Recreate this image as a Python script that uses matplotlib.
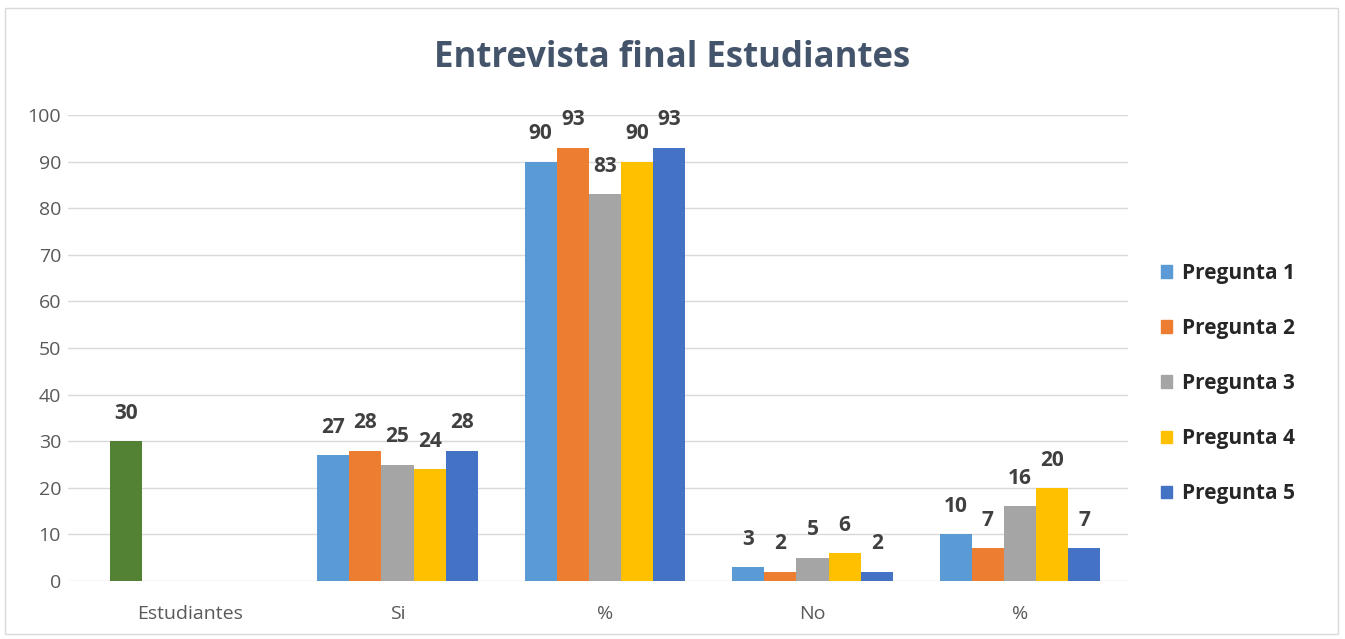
import numpy as np
import matplotlib
matplotlib.use("Agg")
import matplotlib.pyplot as plt
from matplotlib.patches import Rectangle

plt.rcParams['font.family'] = ['Open Sans', 'DejaVu Sans']

categories = ['Estudiantes', 'Si', '%', 'No', '%']
series_names = ['Pregunta 1', 'Pregunta 2', 'Pregunta 3', 'Pregunta 4', 'Pregunta 5']
# the Estudiantes column only has one bar (total students)
pregunta1 = [30, 27, 90, 3, 10]
pregunta2 = [np.nan, 28, 93, 2, 7]
pregunta3 = [np.nan, 25, 83, 5, 16]
pregunta4 = [np.nan, 24, 90, 6, 20]
pregunta5 = [np.nan, 28, 93, 2, 7]
values = [pregunta1, pregunta2, pregunta3, pregunta4, pregunta5]

colors = ['#5B9BD5', '#ED7D31', '#A5A5A5', '#FFC000', '#4472C4']
green = '#548235'

W, H = 1345, 639
fig = plt.figure(figsize=(W / 100, H / 100), dpi=100)
fig.patches.append(Rectangle((5 / W, 1 - 634 / H), 1333 / W, 626 / H, transform=fig.transFigure,
                             fill=False, edgecolor='#D9D9D9', linewidth=1))

ax = fig.add_axes([68 / W, 1 - 581 / H, (1128 - 68) / W, (581 - 115) / H])

x = np.arange(len(categories))
bw = 0.155
for i, (name, vals) in enumerate(zip(series_names, values)):
    pos = x + (i - 2) * bw
    cols = [colors[i]] * len(vals)
    if i == 0:
        cols[0] = green
    ax.bar(pos, vals, width=bw, color=cols, label=name, zorder=3)
    for p, v in zip(pos, vals):
        if np.isnan(v):
            continue
        ax.annotate(f'{v:g}', (p, v), xytext=(0, 20), textcoords='offset points',
                    ha='center', va='center', fontsize=15, fontweight='bold', color='#404040')

ax.set_ylim(0, 100)
ax.set_xlim(-(190 - 68) / 207.5, 4 + (1128 - 1020) / 207.5)
ax.set_yticks(np.arange(0, 101, 10))
ax.set_xticks(x)
ax.set_xticklabels(categories)
ax.tick_params(axis='both', length=0, labelsize=14, labelcolor='#595959')
ax.tick_params(axis='x', pad=17)
ax.tick_params(axis='y', pad=5)
ax.grid(axis='y', color='#D9D9D9', linewidth=1, zorder=0)
for s in ax.spines.values():
    s.set_visible(False)

fig.text(0.5, 1 - 58 / H, 'Entrevista final Estudiantes', ha='center', va='center',
         fontsize=25, fontweight='bold', color='#44546A')

leg = fig.legend([plt.Rectangle((0, 0), 1, 1, color=c) for c in colors], series_names,
                 loc='upper left', bbox_to_anchor=(1142 / W, 1 - 244 / H),
                 frameon=False, handlelength=0.55, handleheight=0.55, handletextpad=0.45,
                 labelspacing=1.64, prop={'size': 15, 'weight': 'bold'})
for t in leg.get_texts():
    t.set_color('#262626')

fig.savefig('out.png', dpi=100)
